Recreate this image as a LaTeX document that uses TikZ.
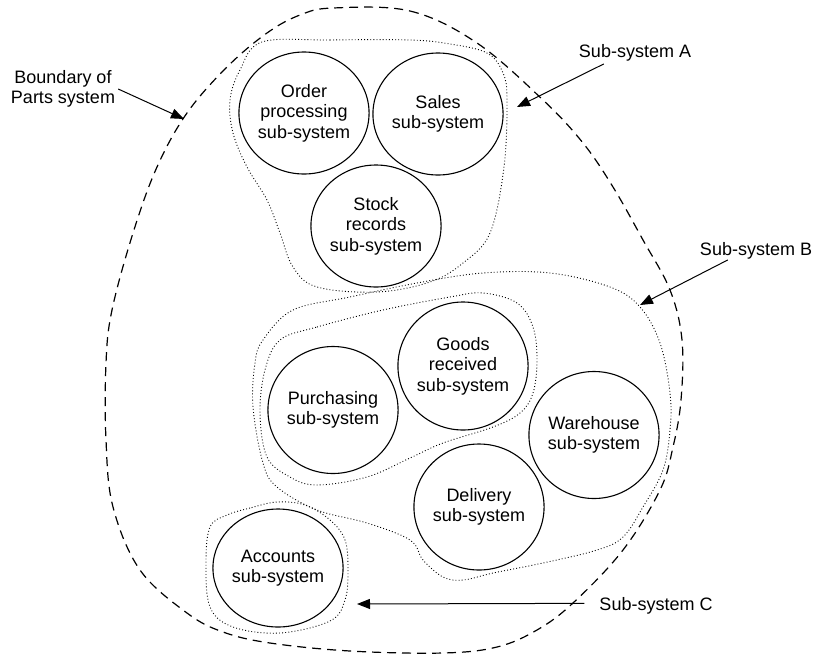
\documentclass[tikz,border=0pt]{standalone}
\usepackage{fontspec}
\setmainfont{Liberation Sans}
\usetikzlibrary{shapes.geometric,arrows.meta}
\newcommand\diagfont{\fontsize{18}{20.5}\selectfont}
\begin{document}
\begin{tikzpicture}[x=1pt,y=-1pt,
  subsys/.style={ellipse,draw,line width=1.1pt,minimum width=130pt,minimum height=122pt,
                 inner sep=0pt,align=center,font=\diagfont},
  caption/.style={align=center,font=\diagfont,inner sep=0pt},
  boundary/.style={line width=1.2pt,dash pattern=on 9pt off 6pt},
  group/.style={line width=0.9pt,dash pattern=on 0.9pt off 2.2pt},
  pointer/.style={line width=1pt,-{Triangle[length=13pt,width=10pt]}}]
\useasboundingbox (0,0) rectangle (818,656);

% sub-systems
\node[subsys] (order) at (304,113) {Order\\processing\\sub-system};
\node[subsys] (sales) at (438,114) {Sales\\sub-system};
\node[subsys] (stock) at (376,226) {Stock\\records\\sub-system};
\node[subsys,minimum height=127pt] (purch) at (333,410) {Purchasing\\sub-system};
\node[subsys,minimum height=128pt] (goods) at (463,366) {Goods\\received\\sub-system};
\node[subsys,minimum height=127pt] (ware) at (594,435) {Warehouse\\sub-system};
\node[subsys,minimum height=126pt] (deliv) at (479,507) {Delivery\\sub-system};
\node[subsys,minimum height=118pt] (acct) at (278,568) {Accounts\\sub-system};

% boundary of the whole Parts system
\draw[boundary] plot[smooth cycle,tension=0.6] coordinates {
  (333,8) (410,11) (477,43) (543,100) (583,143) (613,187) (643,240) (670,290)
  (682,340) (681,400) (673,447) (660,490) (623,550) (573,603) (537,630) (497,647)
  (443,653) (350,651) (270,643) (223,632) (187,613) (140,570) (113,507) (106,440)
  (106,363) (112,310) (133,233) (157,167) (187,113) (227,67) (267,33) (300,15)};

% sub-system A
\draw[group] plot[smooth cycle,tension=0.6] coordinates {
  (262,42) (330,40) (410,40) (450,44) (487,53) (503,73) (507,100) (504,167)
  (490,233) (463,263) (430,282) (377,292) (317,287) (293,267) (280,233) (267,200)
  (247,167) (233,133) (230,100) (240,70)};

% sub-system B
\draw[group] plot[smooth cycle,tension=0.6] coordinates {
  (263,340) (293,310) (350,297) (417,283) (483,273) (550,273) (610,287) (640,307)
  (660,343) (670,393) (670,430) (663,470) (643,507) (623,537) (597,550) (543,563)
  (493,573) (463,580) (443,577) (423,560) (410,540) (367,523) (317,510) (277,487)
  (263,463) (253,407) (255,363)};

% purchasing and goods received grouped inside B
\draw[group] plot[smooth cycle,tension=0.6] coordinates {
  (280,340) (317,327) (383,310) (450,297) (483,293) (517,303) (533,327) (537,360)
  (533,393) (520,413) (493,427) (443,443) (410,458) (367,477) (317,485) (290,477)
  (267,457) (260,413) (265,370)};

% sub-system C
\draw[group] plot[smooth cycle,tension=0.6] coordinates {
  (277,502) (250,508) (227,515) (210,527) (206,563) (210,607) (233,627) (280,633)
  (330,621) (345,600) (348,570) (345,540) (330,520) (305,505)};

% captions and pointers
\node[caption] (bnd) at (63,89) {Boundary of\\Parts system};
\node[caption,anchor=base] (lblA) at (635,57) {Sub-system A};
\node[caption,anchor=base] (lblB) at (756,255) {Sub-system B};
\node[caption,anchor=base] (lblC) at (656,610) {Sub-system C};

\coordinate (tipBnd) at (184,119);
\coordinate (tipA) at (517,107);
\coordinate (tipB) at (640,305);
\coordinate (tipC) at (357,604);

\draw[pointer] ([xshift=3pt]bnd.east) -- (tipBnd);
\draw[pointer] ([xshift=25pt,yshift=-3pt]lblA.south west) -- (tipA);
\draw[pointer] ([xshift=28pt,yshift=-1pt]lblB.south west) -- (tipB);
\draw[pointer] ([xshift=-15pt,yshift=2pt]lblC.west) -- (tipC);
\end{tikzpicture}
\end{document}
